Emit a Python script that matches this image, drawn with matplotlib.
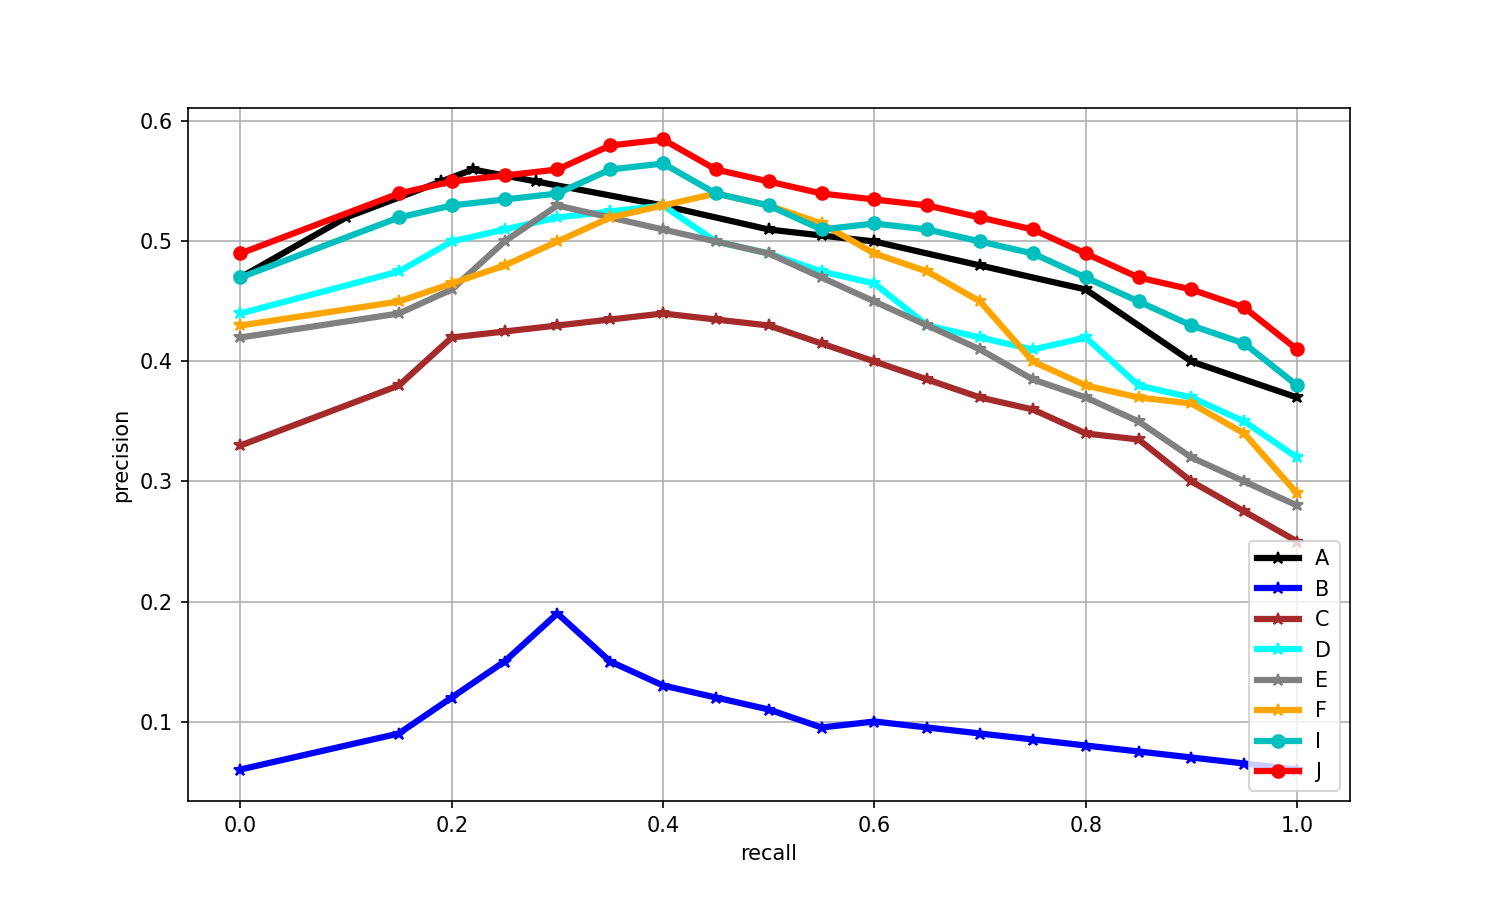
import matplotlib
matplotlib.use('Agg')
import matplotlib.pyplot as plt

# recall points for the A curve
recall_a = [0.0, 0.1, 0.19, 0.22, 0.28, 0.4, 0.5, 0.55, 0.6, 0.7, 0.8, 0.9, 1.0]
prec_a = [0.47, 0.52, 0.55, 0.56, 0.55, 0.53, 0.51, 0.505, 0.50, 0.48, 0.46, 0.40, 0.37]

# recall points shared by the other curves
recall = [0.0, 0.15, 0.2, 0.25, 0.3, 0.35, 0.4, 0.45, 0.5, 0.55,
          0.6, 0.65, 0.7, 0.75, 0.8, 0.85, 0.9, 0.95, 1.0]
prec_b = [0.06, 0.09, 0.12, 0.15, 0.19, 0.15, 0.13, 0.12, 0.11, 0.095,
          0.10, 0.095, 0.09, 0.085, 0.08, 0.075, 0.07, 0.065, 0.06]
prec_c = [0.33, 0.38, 0.42, 0.425, 0.43, 0.435, 0.44, 0.435, 0.43, 0.415,
          0.40, 0.385, 0.37, 0.36, 0.34, 0.335, 0.30, 0.275, 0.25]
prec_d = [0.44, 0.475, 0.50, 0.51, 0.52, 0.525, 0.53, 0.50, 0.49, 0.475,
          0.465, 0.43, 0.42, 0.41, 0.42, 0.38, 0.37, 0.35, 0.32]
prec_e = [0.42, 0.44, 0.46, 0.50, 0.53, 0.52, 0.51, 0.50, 0.49, 0.47,
          0.45, 0.43, 0.41, 0.385, 0.37, 0.35, 0.32, 0.30, 0.28]
prec_f = [0.43, 0.45, 0.465, 0.48, 0.50, 0.52, 0.53, 0.54, 0.53, 0.515,
          0.49, 0.475, 0.45, 0.40, 0.38, 0.37, 0.365, 0.34, 0.29]
prec_i = [0.47, 0.52, 0.53, 0.535, 0.54, 0.56, 0.565, 0.54, 0.53, 0.51,
          0.515, 0.51, 0.50, 0.49, 0.47, 0.45, 0.43, 0.415, 0.38]
prec_j = [0.49, 0.54, 0.55, 0.555, 0.56, 0.58, 0.585, 0.56, 0.55, 0.54,
          0.535, 0.53, 0.52, 0.51, 0.49, 0.47, 0.46, 0.445, 0.41]

plt.figure(figsize=(10, 6), dpi=150)
plt.plot(recall_a, prec_a, color='black', marker='*', lw=3, label='A')
plt.plot(recall, prec_b, color='blue', marker='*', lw=3, label='B')
plt.plot(recall, prec_c, color='brown', marker='*', lw=3, label='C')
plt.plot(recall, prec_d, color='cyan', marker='*', lw=3, label='D')
plt.plot(recall, prec_e, color='gray', marker='*', lw=3, label='E')
plt.plot(recall, prec_f, color='orange', marker='*', lw=3, label='F')
plt.plot(recall, prec_i, color='c', marker='o', lw=3, label='I')
plt.plot(recall, prec_j, color='red', marker='o', lw=3, label='J')

plt.xlabel('recall')
plt.ylabel('precision')
plt.grid(True)
plt.legend(loc='lower right')
plt.savefig('out.png')
